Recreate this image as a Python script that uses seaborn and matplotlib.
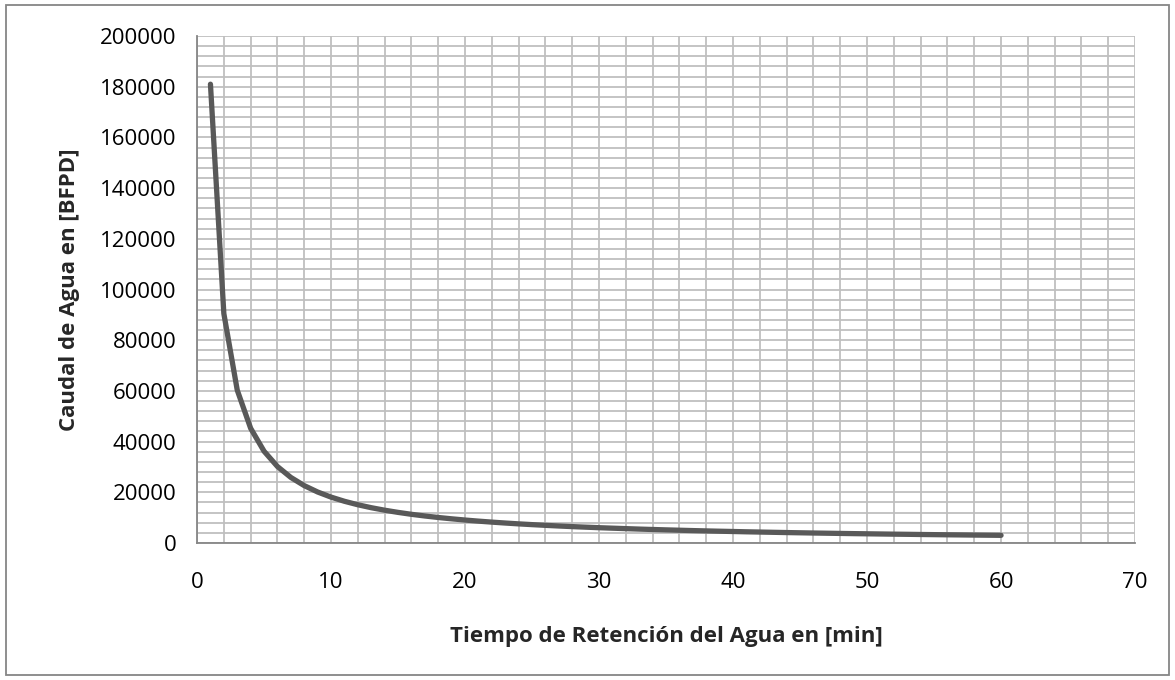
import matplotlib
matplotlib.use("Agg")
import matplotlib.pyplot as plt
from matplotlib.patches import Rectangle
from matplotlib.ticker import MultipleLocator
import seaborn as sns
import pandas as pd

tiempo_min = list(range(1, 61))
caudal_bfpd = [181000, 90500, 60300, 45250, 36200, 30170, 25860, 22630, 20110, 18100,
               16450, 15080, 13920, 12930, 12070, 11310, 10650, 10060, 9530, 9050,
               8620, 8230, 7870, 7540, 7240, 6960, 6700, 6460, 6240, 6030,
               5840, 5660, 5480, 5320, 5170, 5030, 4890, 4760, 4640, 4530,
               4410, 4310, 4210, 4110, 4020, 3930, 3850, 3770, 3690, 3620,
               3550, 3480, 3420, 3350, 3290, 3230, 3180, 3120, 3070, 3020]
x_label = "Tiempo de Retención del Agua en [min]"
y_label = "Caudal de Agua en [BFPD]"

sns.set_theme(style="white")
plt.rcParams['font.family'] = ['Open Sans', 'DejaVu Sans']

df = pd.DataFrame({"t": tiempo_min, "q": caudal_bfpd})

fig = plt.figure(figsize=(11.75, 6.8), dpi=100)
ax = fig.add_axes([0.1677, 0.2015, 0.966 - 0.1677, 0.947 - 0.2015])

sns.lineplot(data=df, x="t", y="q", ax=ax, color="#595959", linewidth=3.8,
             solid_capstyle="round", solid_joinstyle="round", zorder=3)

ax.set_xlim(0, 70)
ax.set_ylim(0, 200000)
ax.xaxis.set_major_locator(MultipleLocator(10))
ax.xaxis.set_minor_locator(MultipleLocator(2))
ax.yaxis.set_major_locator(MultipleLocator(20000))
ax.yaxis.set_minor_locator(MultipleLocator(4000))

grid_kw = dict(color="#BFBFBF", linewidth=1.3)
ax.grid(True, which="both", **grid_kw)
ax.set_axisbelow(True)

for s in ["top", "right"]:
    ax.spines[s].set_visible(False)
for s in ["left", "bottom"]:
    ax.spines[s].set_color("#868686")
    ax.spines[s].set_linewidth(1.3)

ax.tick_params(axis="both", which="major", direction="out", length=7, width=1.3,
               color="#868686", labelsize=16, labelcolor="black")
ax.tick_params(axis="both", which="minor", length=0)
ax.tick_params(axis="x", pad=14)
ax.tick_params(axis="y", pad=8)
ax.ticklabel_format(style="plain", axis="y")

ax.set_xlabel(x_label, fontsize=16, fontweight="bold", labelpad=24)
ax.set_ylabel(y_label, fontsize=16, fontweight="bold", labelpad=14)

fig.patches.append(Rectangle((0.005, 0.007), 0.99, 0.986, transform=fig.transFigure,
                             fill=False, edgecolor="#868686", linewidth=1.3))

fig.savefig("out.png", dpi=100, facecolor="white")
